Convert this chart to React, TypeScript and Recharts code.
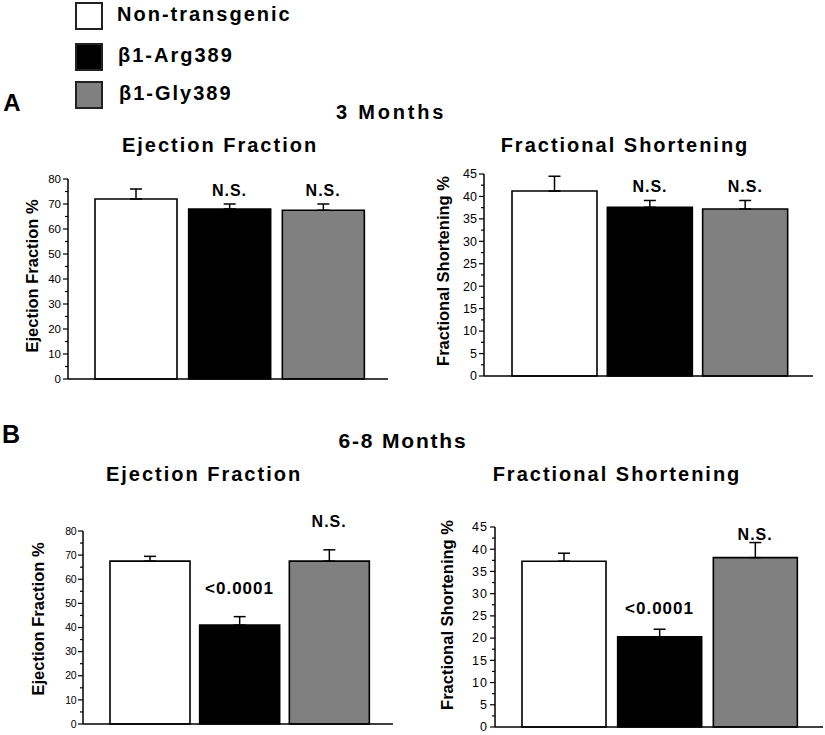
import React from 'react'
import { BarChart, Bar, Cell, XAxis, YAxis, ErrorBar, ReferenceDot } from 'recharts'

const FONT = '"Liberation Sans", Arial, sans-serif'

// groups and legend
const groups = ['Non-transgenic', 'β1-Arg389', 'β1-Gly389']
const groupColors = ['#ffffff', '#000000', '#808080']

// 3 months
const ef3Mean = [72, 68, 67.5]
const ef3Err = [4, 2, 2.5]
const fs3Mean = [41.2, 37.6, 37.2]
const fs3Err = [3.3, 1.5, 1.9]
const sig3 = ['', 'N.S.', 'N.S.']

// 6-8 months
const ef68Mean = [67.5, 41, 67.5]
const ef68Err = [2, 3.5, 4.7]
const fs68Mean = [37.3, 20.3, 38.1]
const fs68Err = [1.8, 1.7, 3.4]
const sig68 = ['', '<0.0001', 'N.S.']

const efTicks = [0, 5, 10, 15, 20, 25, 30, 35, 40, 45, 50, 55, 60, 65, 70, 75, 80]
const fsTicks = [0, 2.5, 5, 7.5, 10, 12.5, 15, 17.5, 20, 22.5, 25, 27.5, 30, 32.5, 35, 37.5, 40, 42.5, 45]

type PanelProps = {
  mean: number[]
  err: number[]
  sig: string[]
  sigOffset: number[]
  sigSize: number[]
  yMax: number
  ticks: number[]
  major: number
  left: number
  top: number
  width: number
  height: number
  marginTop: number
  marginRight: number
  axisWidth: number
  padL: number
  padR: number
  barSize: number
  tickFont: number
  tickSpacing: number
}

function makeTick(major: number, fontSize: number, spacing: number) {
  return (props: any) => {
    const { x, y, payload } = props
    const isMajor = payload.value % major === 0
    return (
      <g>
        <line x1={x - (isMajor ? 5 : 3)} x2={x} y1={y} y2={y} stroke="#000" strokeWidth={1.2} />
        {isMajor && (
          <text
            x={x - 7}
            y={y}
            dy="0.35em"
            textAnchor="end"
            fontSize={fontSize}
            fontFamily={FONT}
            letterSpacing={spacing}
            fill="#000"
          >
            {payload.value}
          </text>
        )}
      </g>
    )
  }
}

function Panel(p: PanelProps) {
  const data = groups.map((g, i) => ({
    group: g,
    mean: p.mean[i],
    errRange: [0, p.err[i]],
    top: p.mean[i] + p.err[i],
    sig: p.sig[i],
  }))
  return (
    <div style={{ position: 'absolute', left: p.left, top: p.top }}>
      <BarChart
        width={p.width}
        height={p.height}
        data={data}
        margin={{ top: p.marginTop, right: p.marginRight, bottom: 2, left: 0 }}
      >
        <XAxis
          dataKey="group"
          tick={false}
          tickSize={3}
          height={6}
          padding={{ left: p.padL, right: p.padR }}
          axisLine={{ stroke: '#000', strokeWidth: 1.5 }}
          tickLine={{ stroke: '#000', strokeWidth: 1 }}
        />
        <YAxis
          domain={[0, p.yMax]}
          ticks={p.ticks}
          interval={0}
          width={p.axisWidth}
          tickSize={0}
          tickMargin={0}
          tickLine={false}
          axisLine={{ stroke: '#000', strokeWidth: 1.5 }}
          tick={makeTick(p.major, p.tickFont, p.tickSpacing)}
        />
        <Bar dataKey="mean" barSize={p.barSize} stroke="#000" strokeWidth={1.6} isAnimationActive={false}>
          {data.map((d, i) => (
            <Cell key={d.group} fill={groupColors[i]} />
          ))}
          <ErrorBar dataKey="errRange" width={6} stroke="#000" strokeWidth={1.5} direction="y" />
        </Bar>
        {data.map((d, i) =>
          d.sig ? (
            <ReferenceDot
              key={'sig' + i}
              x={d.group}
              y={d.top}
              r={0}
              stroke="none"
              label={(lp: any) => (
                <text
                  x={lp.viewBox.x}
                  y={lp.viewBox.y - p.sigOffset[i]}
                  textAnchor="middle"
                  fontSize={p.sigSize[i]}
                  fontWeight="bold"
                  fontFamily={FONT}
                  letterSpacing={1}
                  fill="#000"
                >
                  {d.sig}
                </text>
              )}
            />
          ) : null
        )}
      </BarChart>
    </div>
  )
}

const textStyle = (x: number, y: number, size: number, spacing = 0): React.CSSProperties => ({
  position: 'absolute',
  left: x,
  top: y,
  transform: 'translate(-50%, -50%)',
  fontFamily: FONT,
  fontWeight: 'bold',
  fontSize: size,
  letterSpacing: spacing,
  lineHeight: 1,
  whiteSpace: 'nowrap',
  color: '#000',
})

const yTitle = (x: number, y: number, size: number): React.CSSProperties => ({
  ...textStyle(x, y, size),
  transform: 'translate(-50%, -50%) rotate(-90deg)',
})

export default function App() {
  return (
    <div style={{ position: 'absolute', left: 0, top: 0, width: 825, height: 735, background: '#fff', overflow: 'hidden' }}>
      {/* legend */}
      {groups.map((g, i) => (
        <React.Fragment key={g}>
          <div
            style={{
              position: 'absolute',
              left: 75,
              top: [2, 43, 81][i],
              width: 24,
              height: 24,
              background: groupColors[i],
              border: '2px solid #222',
            }}
          />
          <div
            style={{
              position: 'absolute',
              left: [117, 118, 119][i],
              top: [14, 55, 93][i],
              transform: 'translateY(-50%)',
              fontFamily: FONT,
              fontWeight: 'bold',
              fontSize: 20,
              letterSpacing: 2,
              lineHeight: 1,
              whiteSpace: 'nowrap',
            }}
          >
            {g}
          </div>
        </React.Fragment>
      ))}

      <div style={textStyle(12, 103, 24)}>A</div>
      <div style={textStyle(391, 112, 20, 2.8)}>3 Months</div>
      <div style={textStyle(220, 145, 20, 2)}>Ejection Fraction</div>
      <div style={textStyle(625, 145, 20, 2)}>Fractional Shortening</div>

      <div style={textStyle(11, 434, 25)}>B</div>
      <div style={textStyle(403, 440, 21, 1.8)}>6-8 Months</div>
      <div style={textStyle(204, 474, 20, 2)}>Ejection Fraction</div>
      <div style={textStyle(617, 474, 20, 2)}>Fractional Shortening</div>

      <div style={yTitle(32, 276, 16.5)}>Ejection Fraction %</div>
      <div style={yTitle(443, 271, 16.5)}>Fractional Shortening %</div>
      <div style={yTitle(38, 619, 16.5)}>Ejection Fraction %</div>
      <div style={yTitle(447, 615, 16.5)}>Fractional Shortening %</div>

      <Panel
        mean={ef3Mean}
        err={ef3Err}
        sig={sig3}
        sigOffset={[0, 8, 8]}
        sigSize={[16, 16, 16]}
        yMax={80}
        ticks={efTicks}
        major={10}
        left={0}
        top={160}
        width={400}
        height={227}
        marginTop={19}
        marginRight={12}
        axisWidth={68}
        padL={21}
        padR={18}
        barSize={82}
        tickFont={11.5}
        tickSpacing={0}
      />
      <Panel
        mean={fs3Mean}
        err={fs3Err}
        sig={sig3}
        sigOffset={[0, 8, 8]}
        sigSize={[16, 16, 16]}
        yMax={45}
        ticks={fsTicks}
        major={5}
        left={410}
        top={160}
        width={415}
        height={224}
        marginTop={14}
        marginRight={12}
        axisWidth={74}
        padL={23}
        padR={20}
        barSize={85}
        tickFont={12.5}
        tickSpacing={0}
      />
      <Panel
        mean={ef68Mean}
        err={ef68Err}
        sig={sig68}
        sigOffset={[0, 23, 23]}
        sigSize={[16, 17, 16]}
        yMax={80}
        ticks={efTicks}
        major={10}
        left={0}
        top={510}
        width={405}
        height={222}
        marginTop={21}
        marginRight={12}
        axisWidth={83}
        padL={22}
        padR={19}
        barSize={80}
        tickFont={10.5}
        tickSpacing={-0.5}
      />
      <Panel
        mean={fs68Mean}
        err={fs68Err}
        sig={sig68}
        sigOffset={[0, 15, 3]}
        sigSize={[16, 17, 16]}
        yMax={45}
        ticks={fsTicks}
        major={5}
        left={410}
        top={505}
        width={415}
        height={230}
        marginTop={22}
        marginRight={2}
        axisWidth={85}
        padL={21}
        padR={20}
        barSize={84}
        tickFont={12.5}
        tickSpacing={1}
      />
    </div>
  )
}
